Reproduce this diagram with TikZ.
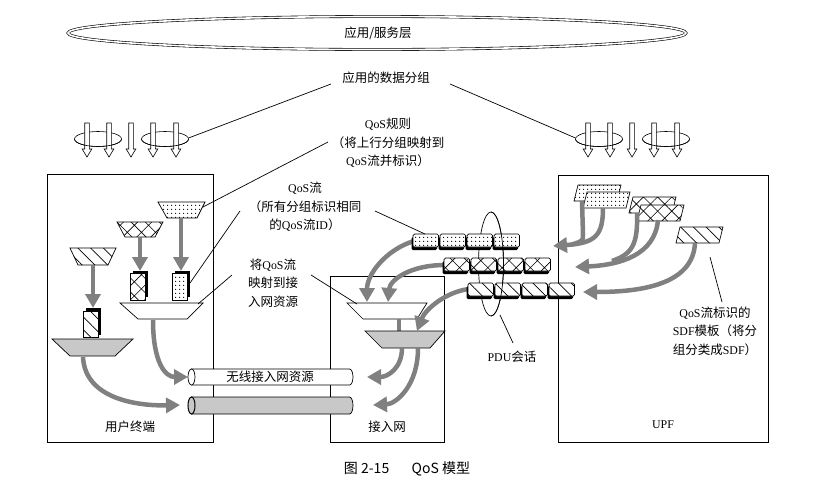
\documentclass[tikz,border=0pt]{standalone}
\usepackage{fontspec}
\setmainfont{Liberation Serif}[Scale=0.95]
\newfontfamily\cjk{Noto Sans CJK SC}
\usetikzlibrary{arrows.meta,patterns.meta}
\definecolor{agray}{RGB}{128,128,128}
\definecolor{fgray}{RGB}{200,200,200}
\newcommand\zh[1]{{\cjk #1}}
\newcommand\qdarrow[1]{\draw[fill=white,line width=0.6pt] (#1-2.3,123) -- (#1+2.3,123) -- (#1+2.3,149) -- (#1+4.8,149) -- (#1,157) -- (#1-4.8,149) -- (#1-2.3,149) -- cycle;}
\newcommand\qblock[3]{\fill (#1+3,#2-3) rectangle ++(15,26.5); \draw[#3] (#1,#2) rectangle ++(15,26.5);}
\newcommand\qseg[3]{\fill[rounded corners=1.5pt] (#1-1.5,#2+3) rectangle ++(25.5,13); \draw[#3,rounded corners=1.5pt] (#1,#2) rectangle ++(25.5,13);}
\newcommand\qpar[3]{\draw[#3] (#1,#2) -- ++(43,0) -- ++(-4,16) -- ++(-43,0) -- cycle;}
\tikzset{
  pdots/.style={fill=white, postaction={pattern={Dots[distance=4pt,radius=0.75pt]}}},
  pcross/.style={fill=white, postaction={pattern={Hatch[angle=45,distance=10pt,line width=0.6pt]}}},
  plines/.style={fill=white, postaction={pattern={Lines[angle=-45,distance=9pt,line width=0.7pt]}}},
  garrow/.style={draw=agray, line width=4.5pt, -{Triangle[length=14pt,width=15pt]}},
  gline/.style={draw=agray, line width=4.5pt},
  box/.style={line width=0.8pt},
}
\begin{document}
\begin{tikzpicture}[x=1pt,y=-1pt,line width=0.7pt,font=\fontsize{12.5}{18.5}\selectfont]
\useasboundingbox[fill=white] (0,0) rectangle (815,501);

% application layer
\draw[double, double distance=1.6pt, line width=0.6pt] (377,33) ellipse [x radius=309, y radius=16.5];
\node (lapp) at (378,33) {\zh{应用/服务层}};
\node (ldata) at (386,78) {\zh{应用的数据分组}};

% packet arrows groups
\foreach \cx in {98,165,599,666} {\draw[line width=0.6pt] (\cx,139) ellipse [x radius=23.5, y radius=7.5];}
\foreach \ax in {87,109,131,153,176,588,610,632,654,677} {\qdarrow{\ax}}
\foreach \cx in {98,165,599,666} {\draw[line width=0.6pt] (\cx+23.5,139) arc [start angle=0, end angle=180, x radius=23.5, y radius=7.5];}
\coordinate (dl) at (331,84); \coordinate (dr) at (450,84);
\coordinate (gl) at (188.5,138); \coordinate (gr) at (575.5,138);
\draw (dl) -- (gl);
\draw (dr) -- (gr);

% boxes
\draw[box] (47,174) rectangle (213,442);
\draw[box] (330,276) rectangle (444,442);
\draw[box] (558,175) rectangle (768,442);
\node (lue) at (130,427) {\zh{用户终端}};
\node (lan) at (387,427) {\zh{接入网}};
\node (lupf) at (663,425) {UPF};

% UE contents
\draw[pdots] (158,202) -- (205,202) -- (197,218) -- (167,218) -- cycle;
\draw[pcross] (117,222) -- (163,222) -- (155,237) -- (125,237) -- cycle;
\draw[plines] (70,248) -- (116,248) -- (108,265) -- (78,265) -- cycle;
\draw[garrow] (181,218) -- (181,271);
\draw[garrow] (140,237) -- (140,271);
\draw[garrow] (93,265) -- (93,308);
\draw[fill=white] (120,303) -- (203,303) -- (187,319) -- (138,319) -- cycle;
\draw[fill=fgray] (52,339) -- (133,339) -- (115,356) -- (70,356) -- cycle;
\qblock{130}{273.5}{pcross}
\qblock{172}{273.5}{pdots}
\qblock{83}{311}{plines}
\draw[garrow] (153,320) .. controls (153,362) and (165,377) .. (188,377);
\draw[garrow] (83,357) .. controls (85,400) and (140,406) .. (180,405);

% pipes
\draw[fill=white] (191.5,369) -- (349.5,369) arc [start angle=-90, end angle=90, x radius=3.5, y radius=8] -- (191.5,385) -- cycle;
\draw[fill=white] (191.5,377) ellipse [x radius=3.5, y radius=8];
\draw[fill=fgray] (191.5,397) -- (349.5,397) arc [start angle=-90, end angle=90, x radius=3.5, y radius=8.5] -- (191.5,414) -- cycle;
\draw[fill=fgray, line width=1pt] (191.5,405.5) ellipse [x radius=3.5, y radius=8.5];
\node (lres) at (270,377) {\zh{无线接入网资源}};

% access network contents
\draw[fill=white] (347,303) -- (427,303) -- (417,319) -- (363,319) -- cycle;
\draw[gline] (399,319) -- (399,331);
\draw[fill=fgray] (365,331) -- (445,331) -- (430,348) -- (382,348) -- cycle;
\draw[garrow] (414,241) .. controls (385,250) and (367,275) .. (367,302);
\draw[garrow] (445,265) .. controls (410,265) and (390,280) .. (388,302);
\draw[garrow] (469,289) .. controls (445,292) and (425,310) .. (417,331);
\draw[garrow] (402,348) .. controls (402,368) and (388,377) .. (367,377);
\draw[garrow] (418,348) .. controls (418,386) and (396,404) .. (373,405);

% PDU session (back part)
\draw (491,264) ellipse [x radius=12.5, y radius=52];

% QoS flow bars
\foreach \i in {0,...,3} {\qseg{413+27*\i}{234}{pdots}}
\foreach \i in {0,...,3} {\qseg{444+27*\i}{258}{pcross}}
\foreach \i in {0,...,3} {\qseg{468+27*\i}{283}{plines}}
\draw (491,212) arc [start angle=-90, end angle=90, x radius=12.5, y radius=52];
\coordinate (pe) at (500,315);
\node (lpdu) at (512,357) {PDU\zh{会话}};
\draw (pe) -- (513,343);

% UPF contents
\qpar{578}{185}{pdots}
\qpar{587}{192}{pdots}
\qpar{633}{197}{pcross}
\qpar{641}{205}{pcross}
\qpar{680}{227}{plines}
\draw[gline] (582,201) -- (583,234) .. controls (583,241) .. (572,244.5);
\draw[garrow] (603,208) .. controls (603,236) and (595,243) .. (553,246);
\draw[gline] (637,213) .. controls (638,245) and (632,254) .. (612,261);
\draw[garrow] (658,220) .. controls (655,255) and (620,265) .. (575,267);
\draw[garrow] (695,243) .. controls (693,285) and (640,292) .. (583,292);
\coordinate (hp) at (710,257);
\node[align=center] (lsdf) at (715,331) {QoS\zh{流标识的}\\SDF\zh{模板（将分}\\\zh{组分类成}SDF\zh{）}};
\draw (hp) -- (722,302);

% labels with leaders
\node[align=center] (lrule) at (388,143) {QoS\zh{规则}\\\zh{（将上行分组映射到}\\QoS\zh{流并标识）}};
\coordinate (r1) at (328,142); \coordinate (r2) at (203,207);
\draw (r1) -- (r2);
\node[align=center] (lflow) at (305,207) {QoS\zh{流}\\\zh{（所有分组标识相同}\\\zh{的}QoS\zh{流}ID\zh{）}};
\coordinate (f1) at (240,211); \coordinate (f2) at (190,283);
\coordinate (f3) at (375,211); \coordinate (f4) at (425,234);
\draw (f1) -- (f2);
\draw (f3) -- (f4);
\node[align=center] (lmap) at (273,283) {\zh{将}QoS\zh{流}\\\zh{映射到接}\\\zh{入网资源}};
\coordinate (m1) at (232,275); \coordinate (m2) at (198,304);
\coordinate (m3) at (311,275); \coordinate (m4) at (357,304);
\draw (m1) -- (m2);
\draw (m3) -- (m4);

% caption
\node (cap) at (407,469) {\cjk\fontsize{14}{16}\selectfont 图 2-15\hspace{1.6em}QoS 模型};
\end{tikzpicture}
\end{document}
